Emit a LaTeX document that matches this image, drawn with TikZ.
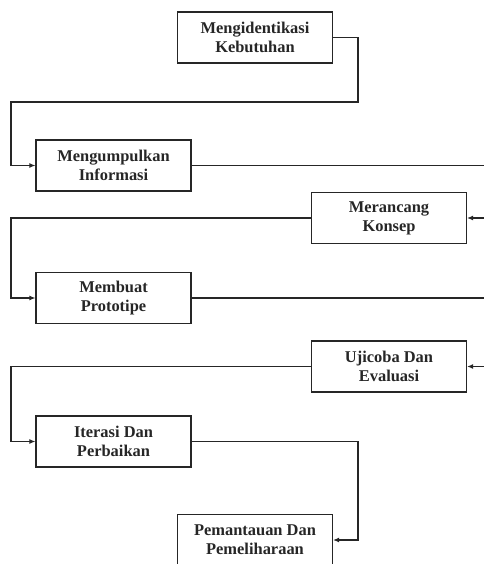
\documentclass[tikz,border=0pt]{standalone}
\usepackage{fontspec}
\setmainfont{Liberation Serif}
\usetikzlibrary{arrows.meta}
\begin{document}
\begin{tikzpicture}[x=1bp,y=-1bp,
  stepbox/.style={draw=black!85, line width=1.2bp, minimum width=155bp, minimum height=51bp,
    inner sep=0pt, align=center, font=\fontsize{16.5}{19}\selectfont\bfseries, text=black!85},
  conn/.style={draw=black!85, line width=1.1bp},
  arr/.style={conn, -{Latex[length=6bp,width=5bp]}}]
\useasboundingbox (0,0) rectangle (484,564);
\clip (0,0) rectangle (484,564);
\node[stepbox] (b1) at (255,37.5) {Mengidentikasi\\Kebutuhan};
\node[stepbox] (b2) at (113.5,165.5) {Mengumpulkan\\Informasi};
\node[stepbox] (b3) at (389,218) {Merancang\\Konsep};
\node[stepbox] (b4) at (113.5,298) {Membuat\\Prototipe};
\node[stepbox] (b5) at (389,366.5) {Ujicoba Dan\\Evaluasi};
\node[stepbox] (b6) at (113.5,441.5) {Iterasi Dan\\Perbaikan};
\node[stepbox] (b7) at (255,540) {Pemantauan Dan\\Pemeliharaan};
\coordinate (r2) at (484,165.5);
\coordinate (r3) at (484,218);
\coordinate (r4) at (484,298);
\coordinate (r5) at (484,366.5);
\draw[arr] (b1.east) -- (358,37.5) -- (358,102) -- (11,102) -- (11,165.5) -- (b2.west);
\draw[conn] (b2.east) -- (r2);
\draw[arr] (r3) -- (b3.east);
\draw[arr] (b3.west) -- (11,218) -- (11,298) -- (b4.west);
\draw[conn] (b4.east) -- (r4);
\draw[arr] (r5) -- (b5.east);
\draw[arr] (b5.west) -- (11,366.5) -- (11,441.5) -- (b6.west);
\draw[arr] (b6.east) -- (358,441.5) -- (358,540) -- (b7.east);
\end{tikzpicture}
\end{document}
